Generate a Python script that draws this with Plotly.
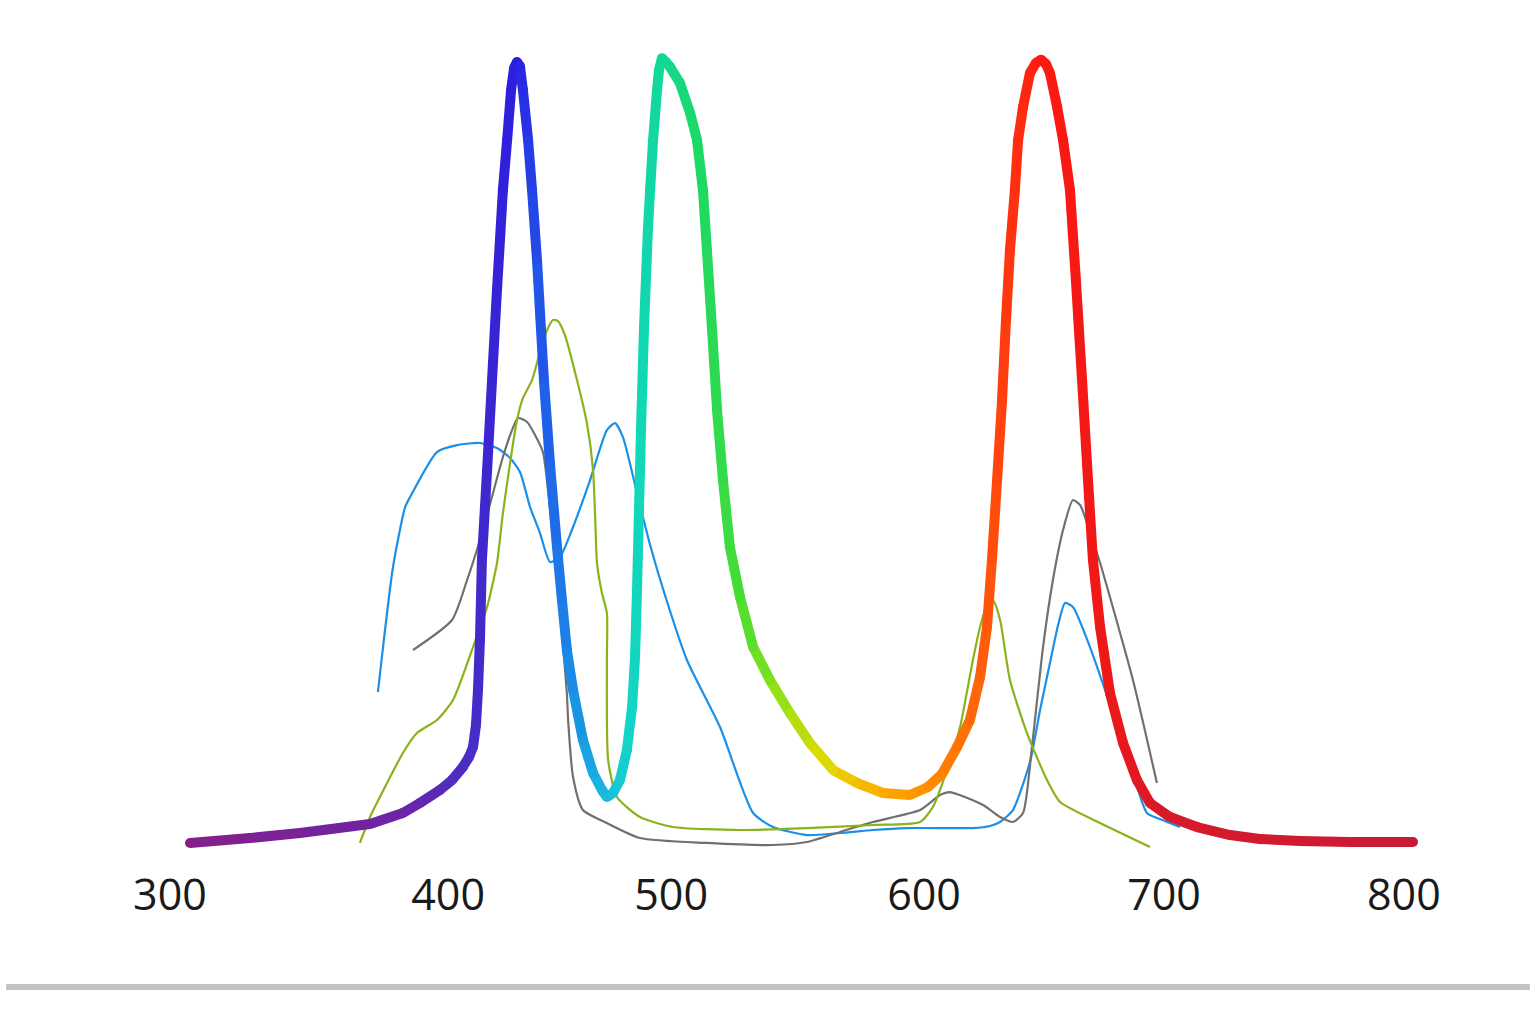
import numpy as np
import plotly.graph_objects as go

# ---------------- data (wavelength-like axis units, relative intensity) ----------------
main_x = [308.1, 332.4, 352.6, 381.0, 394.3, 401.2, 409.3, 414.2, 418.6, 421.1, 422.7, 423.9,
          424.7, 425.5, 426.3, 428.4, 430.4, 432.4, 433.6, 434.8, 436.5, 438.1, 439.3, 440.5,
          441.7, 442.9, 445.0, 446.6, 448.6, 451.4, 453.9, 456.7, 458.7, 460.7, 463.2, 467.2,
          471.3, 474.9, 476.9, 479.4, 482.2, 485.0, 487.1, 488.3, 489.1, 489.9, 490.7, 491.9,
          493.5, 494.4, 495.6, 497.2, 498.0, 499.2, 500.8, 502.5, 506.5, 510.6, 513.4, 515.8,
          517.4, 519.5, 521.5, 523.9, 526.7, 530.8, 536.1, 542.9, 551.0, 559.1, 568.5, 578.2,
          588.7, 599.6, 606.9, 612.6, 618.7, 623.9, 628.0, 630.8, 632.8, 634.9, 636.9, 638.5,
          640.1, 642.1, 643.4, 645.4, 648.2, 650.6, 652.7, 654.7, 656.3, 659.2, 661.6, 664.4,
          666.8, 669.3, 671.7, 673.7, 676.6, 680.6, 685.9, 691.5, 696.8, 704.9, 715.8, 729.2,
          741.3, 757.5, 777.8, 803.3]
main_y = [0.64, 1.27, 1.91, 3.05, 4.45, 5.73, 7.38, 8.65, 10.31, 11.58, 12.85, 15.65,
          20.10, 26.46, 36.64, 48.09, 59.54, 70.99, 77.36, 83.72, 90.08, 96.44, 99.24, 100.0,
          99.49, 96.44, 90.08, 83.72, 74.81, 59.54, 48.73, 38.30, 31.55, 25.19, 20.10, 13.74,
          9.54, 7.38, 6.49, 7.00, 8.65, 12.47, 17.94, 24.30, 32.83, 43.00, 53.18, 65.91,
          78.63, 83.72, 90.08, 96.44, 98.98, 100.5, 100.0, 99.37, 97.33, 93.51, 90.08, 83.72,
          76.08, 65.91, 55.73, 46.82, 38.30, 31.93, 25.57, 21.37, 17.18, 13.36, 9.92, 8.27,
          7.00, 6.74, 7.76, 9.42, 12.85, 16.29, 21.76, 28.12, 36.64, 46.82, 57.00, 67.18,
          76.08, 83.72, 90.08, 94.28, 98.60, 99.88, 100.3, 99.75, 98.60, 94.28, 90.08, 83.72,
          72.27, 59.54, 46.82, 36.64, 28.12, 19.72, 13.36, 8.65, 5.73, 3.94, 2.67, 1.65,
          1.15, 0.89, 0.76, 0.76]

blue_x = [384.2, 390.3, 395.2, 397.2, 408.1, 416.2, 425.5, 432.4, 437.7, 441.7, 445.8, 449.8,
          453.9, 457.9, 463.2, 470.1, 476.9, 480.2, 483.4, 489.1, 494.4, 500.4, 509.3, 522.7,
          536.1, 544.2, 557.9, 571.3, 584.6, 598.4, 625.1, 632.0, 636.1, 641.3, 648.2, 652.3,
          656.3, 659.6, 662.4, 665.6, 672.5, 681.8, 689.9, 695.6, 702.9, 709.0]
blue_y = [19.85, 35.75, 43.38, 44.65, 50.38, 51.27, 51.53, 50.89, 49.62, 47.84, 43.38, 40.08,
          36.39, 37.02, 40.84, 46.82, 53.18, 54.07, 52.29, 45.17, 38.55, 32.19, 23.92, 15.39,
          4.45, 2.67, 1.65, 1.91, 2.29, 2.54, 2.54, 2.80, 3.31, 4.83, 10.94, 17.56,
          23.54, 28.37, 31.17, 30.66, 25.57, 17.18, 9.54, 4.45, 3.44, 2.67]

gray_x = [398.4, 414.2, 420.3, 425.5, 430.8, 434.8, 438.5, 440.9, 444.6, 447.8, 451.0, 454.7,
          457.9, 460.7, 461.2, 463.2, 467.2, 476.9, 490.3, 517.4, 544.2, 557.9, 571.3, 584.6,
          603.7, 611.8, 615.8, 629.2, 636.1, 641.3, 645.4, 649.0, 653.5, 657.5, 661.6, 665.6,
          668.5, 671.3, 676.6, 689.9, 699.6]
gray_y = [25.19, 29.01, 34.10, 39.19, 45.17, 49.75, 53.18, 54.71, 54.20, 52.55, 50.38, 40.46,
          30.28, 19.72, 16.29, 9.03, 4.83, 3.18, 1.27, 0.64, 0.38, 0.76, 2.04, 3.31,
          4.83, 6.74, 7.12, 5.47, 3.94, 3.31, 4.45, 12.85, 25.57, 34.10, 40.46, 44.28,
          43.64, 41.35, 36.26, 21.37, 8.27]

olive_x = [376.9, 381.0, 387.9, 394.3, 400.0, 408.1, 414.6, 422.7, 428.4, 432.4, 434.8, 437.7,
           440.5, 442.9, 446.6, 449.8, 452.7, 455.1, 457.1, 459.9, 464.8, 468.8, 471.3, 472.1,
           472.9, 474.9, 476.9, 476.9, 477.4, 481.0, 490.3, 503.7, 530.8, 557.9, 584.6, 603.7,
           608.9, 614.6, 619.9, 625.1, 628.0, 631.2, 633.2, 636.1, 640.1, 647.0, 655.1, 660.4,
           676.6, 696.8]
olive_y = [0.64, 3.94, 8.27, 12.09, 14.63, 16.29, 18.83, 25.57, 30.66, 36.26, 42.62, 48.98,
           54.45, 57.25, 59.54, 63.10, 65.91, 67.18, 67.05, 65.27, 59.54, 54.07, 48.09, 42.62,
           36.26, 32.44, 29.90, 23.92, 11.20, 6.49, 3.94, 2.67, 2.29, 2.54, 2.93, 3.31,
           5.22, 9.92, 15.39, 23.92, 28.12, 31.17, 31.55, 29.01, 21.37, 14.63, 8.65, 5.85,
           3.18, 0.13]

tick_vals = [300, 412.6, 502.9, 605.3, 702.5, 799.6]
tick_text = ["300", "400", "500", "600", "700", "800"]

# ---------------- styles ----------------
grad_pos = [308.1, 393.1, 421.5, 433.6, 440.5, 449.8, 462.0, 474.1, 486.3, 499.2, 514.6,
            530.8, 551.0, 567.2, 583.4, 603.7, 628.0, 640.1, 652.3, 676.6, 700.9, 803.3]
grad_col = ["#862088", "#6b25a8", "#4a2ec4", "#3422d8", "#2a1ee2", "#2255e8", "#1a8ae6",
            "#1ab4e0", "#12d6c8", "#12d894", "#1cd864", "#48de30", "#a8e010", "#e6d800",
            "#f8b400", "#ff9400", "#ff6208", "#ff3410", "#ff1a10", "#f01818", "#d81a28",
            "#c81a38"]
THICK = 10
THIN = 2.2


def hex2rgb(h):
    h = h.lstrip("#")
    return [int(h[i:i + 2], 16) for i in (0, 2, 4)]


grad_rgb = np.array([hex2rgb(c) for c in grad_col], dtype=float)


def color_at(u):
    r = np.interp(u, grad_pos, grad_rgb[:, 0])
    g = np.interp(u, grad_pos, grad_rgb[:, 1])
    b = np.interp(u, grad_pos, grad_rgb[:, 2])
    return "rgb(%d,%d,%d)" % (round(r), round(g), round(b))


fig = go.Figure()

for xs, ys, col in [(blue_x, blue_y, "#1a90e8"), (gray_x, gray_y, "#707070"),
                    (olive_x, olive_y, "#8ab21c")]:
    fig.add_trace(go.Scatter(x=xs, y=ys, mode="lines",
                             line=dict(color=col, width=THIN, shape="spline", smoothing=0.6),
                             hoverinfo="skip"))

for i in range(len(main_x) - 1):
    mid = 0.5 * (main_x[i] + main_x[i + 1])
    fig.add_trace(go.Scatter(x=[main_x[i], main_x[i + 1]], y=[main_y[i], main_y[i + 1]],
                             mode="lines", line=dict(color=color_at(mid), width=THICK),
                             hoverinfo="skip"))

fig.add_trace(go.Scatter(x=main_x, y=main_y, mode="markers",
                         marker=dict(size=THICK, color=[color_at(u) for u in main_x],
                                     line=dict(width=0)),
                         hoverinfo="skip"))

fig.add_shape(type="line", xref="paper", yref="paper", x0=0.004, x1=0.996,
              y0=-0.1397, y1=-0.1397, line=dict(color="#c4c4c4", width=6))

fig.update_layout(
    width=1536, height=1024,
    margin=dict(l=0, r=0, t=0, b=158),
    paper_bgcolor="white", plot_bgcolor="white",
    showlegend=False,
    xaxis=dict(range=[231.17, 853.1], tickvals=tick_vals, ticktext=tick_text,
               showgrid=False, zeroline=False, showline=False, ticks="",
               tickfont=dict(family="Open Sans", size=43, color="#1a1a1a")),
    yaxis=dict(range=[-2.29, 107.9], visible=False),
)

fig.write_html("out.html")
